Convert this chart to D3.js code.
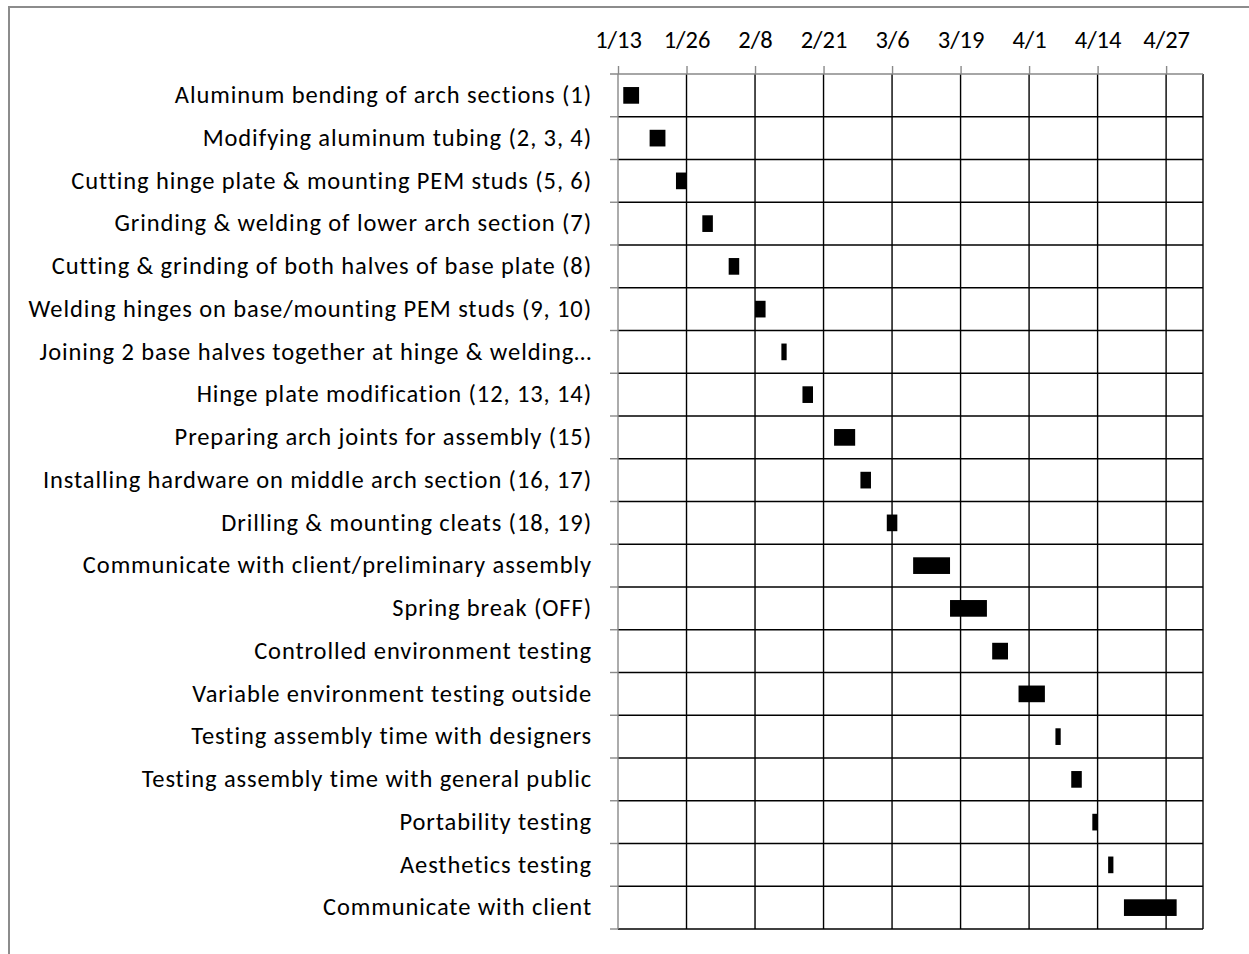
<!DOCTYPE html>
<html>
<head>
<meta charset="utf-8">
<script src="https://d3js.org/d3.v7.min.js"></script>
<style>
  body { margin: 0; background: #fff; }
  svg text { font-family: Carlito, Calibri, Lato, sans-serif; fill: #000; }
</style>
</head>
<body>
<script>
// task names, top to bottom
var tasks = [
    "Aluminum bending of arch sections (1)",
    "Modifying aluminum tubing (2, 3, 4)",
    "Cutting hinge plate & mounting PEM studs (5, 6)",
    "Grinding & welding of lower arch section (7)",
    "Cutting & grinding of both halves of base plate (8)",
    "Welding hinges on base/mounting PEM studs (9, 10)",
    "Joining 2 base halves together at hinge & welding\u2026",
    "Hinge plate modification (12, 13, 14)",
    "Preparing arch joints for assembly (15)",
    "Installing hardware on middle arch section (16, 17)",
    "Drilling & mounting cleats (18, 19)",
    "Communicate with client/preliminary assembly",
    "Spring break (OFF)",
    "Controlled environment testing",
    "Variable environment testing outside",
    "Testing assembly time with designers",
    "Testing assembly time with general public",
    "Portability testing",
    "Aesthetics testing ",
    "Communicate with client"
];

var startDates = ["1/14", "1/19", "1/24", "1/29", "2/3", "2/8", "2/13", "2/17", "2/23", "2/28",
                  "3/5", "3/10", "3/17", "3/25", "3/30", "4/6", "4/9", "4/13", "4/16", "4/19"];
var durations = [3, 3, 2, 2, 2, 2, 1, 2, 4, 2, 2, 7, 7, 3, 5, 1, 2, 1, 1, 10];

var tickLabels = ["1/13", "1/26", "2/8", "2/21", "3/6", "3/19", "4/1", "4/14", "4/27"];
var axisEnd = "5/4";
var year = 2014;

var totalWidth = 1249,
    totalHeight = 954;

var margin = {"left": 618, "right": 46, "top": 74, "bottom": 25};

var graphWidth = totalWidth - margin.left - margin.right;
var graphHeight = totalHeight - margin.top - margin.bottom;

var parseDate = d3.utcParse("%m/%d/%Y");
function toDate(s) { return parseDate(s + "/" + year); }

var svg = d3.select("body").append("svg")
    .attr("width", totalWidth)
    .attr("height", totalHeight);

// chart area frame (only left and top edges show)
svg.append("path")
    .attr("d", "M9," + totalHeight + "V7H" + totalWidth)
    .attr("fill", "none")
    .attr("stroke", "#8c8c8c")
    .attr("stroke-width", 2);

var g = svg.append("g")
    .attr("transform", "translate(" + margin.left + "," + margin.top + ")");

var ticks = tickLabels.map(toDate);

var x = d3.scaleUtc()
    .domain([ticks[0], toDate(axisEnd)])
    .range([0, graphWidth]);

var y = d3.scaleBand()
    .domain(tasks)
    .range([0, graphHeight]);

var gridColor = "#000",
    axisColor = "#898989";

// vertical gridlines
g.selectAll(".vgrid")
    .data(ticks.slice(1)).enter()
    .append("line")
    .attr("class", "vgrid")
    .attr("x1", function(d) { return x(d); })
    .attr("x2", function(d) { return x(d); })
    .attr("y1", 0)
    .attr("y2", graphHeight)
    .attr("stroke", gridColor)
    .attr("stroke-width", 1.4);

// horizontal gridlines at row boundaries
var boundaries = d3.range(1, tasks.length + 1).map(function(i) { return i * y.step(); });

g.selectAll(".hgrid")
    .data(boundaries).enter()
    .append("line")
    .attr("class", "hgrid")
    .attr("x1", 0)
    .attr("x2", graphWidth)
    .attr("y1", function(d) { return d; })
    .attr("y2", function(d) { return d; })
    .attr("stroke", gridColor)
    .attr("stroke-width", 1.4);

// right edge of plot
g.append("line")
    .attr("x1", graphWidth)
    .attr("x2", graphWidth)
    .attr("y1", 0)
    .attr("y2", graphHeight)
    .attr("stroke", gridColor)
    .attr("stroke-width", 1.4);

// bars
g.selectAll(".bar")
    .data(tasks).enter()
    .append("rect")
    .attr("class", "bar")
    .attr("x", function(d, i) { return x(toDate(startDates[i])); })
    .attr("width", function(d, i) {
        var s = toDate(startDates[i]);
        return x(d3.utcDay.offset(s, durations[i])) - x(s);
    })
    .attr("y", function(d) { return y(d) + y.bandwidth() * 0.305; })
    .attr("height", y.bandwidth() * 0.39)
    .attr("fill", "#000");

// date axis on top
var xAxis = d3.axisTop(x)
    .tickValues(ticks)
    .tickFormat(function(d, i) { return tickLabels[i]; })
    .tickSize(8)
    .tickPadding(18);

var xg = g.append("g").call(xAxis);
xg.select(".domain").remove();
xg.selectAll(".tick line").attr("stroke", axisColor).attr("stroke-width", 1.4);
xg.selectAll(".tick text")
    .attr("font-size", 24.5)
    .attr("font-family", null)
    .attr("fill", "#000");

xg.append("line")
    .attr("x1", -8)
    .attr("x2", graphWidth)
    .attr("stroke", axisColor)
    .attr("stroke-width", 1.4);

// category axis on the left
var yAxis = d3.axisLeft(y)
    .tickSize(0)
    .tickPadding(26);

var yg = g.append("g").call(yAxis);
yg.select(".domain").remove();
yg.selectAll(".tick text")
    .attr("font-size", 24.5)
    .attr("letter-spacing", 0.9)
    .attr("font-family", null)
    .attr("fill", "#000");

yg.append("line")
    .attr("y1", 0)
    .attr("y2", graphHeight)
    .attr("stroke", axisColor)
    .attr("stroke-width", 1.4);

yg.selectAll(".bound")
    .data(boundaries).enter()
    .append("line")
    .attr("class", "bound")
    .attr("x1", -8)
    .attr("x2", 0)
    .attr("y1", function(d) { return d; })
    .attr("y2", function(d) { return d; })
    .attr("stroke", axisColor)
    .attr("stroke-width", 1.4);
</script>
</body>
</html>
